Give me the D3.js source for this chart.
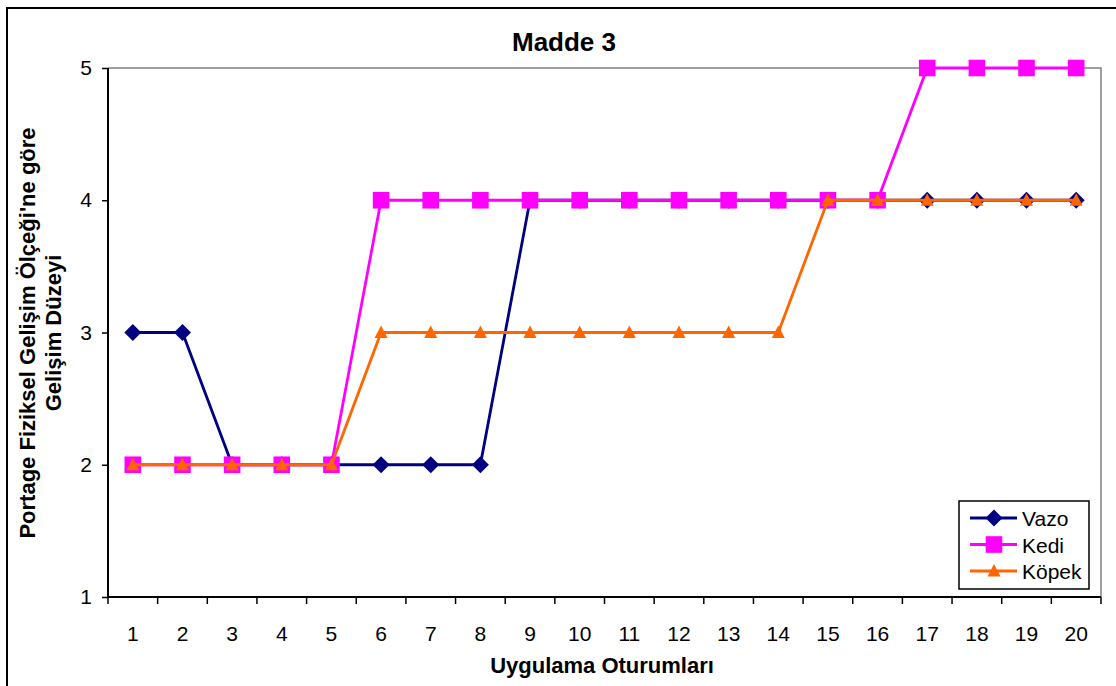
<!DOCTYPE html>
<html>
<head>
<meta charset="utf-8">
<script src="https://cdn.jsdelivr.net/npm/d3@7/dist/d3.min.js"></script>
<style>
  html, body { margin: 0; padding: 0; background: #fff; }
  svg { display: block; }
  text { font-family: "Liberation Sans", Arial, sans-serif; }
</style>
</head>
<body>
<svg id="chart" width="1116" height="686"></svg>
<script>
// Sessions 1..20 and the development level of each item per session
const sessions = d3.range(1, 21).map(String);
const vazo  = [3,3,2,2,2,2,2,2,4,4,4,4,4,4,4,4,4,4,4,4];
const kedi  = [2,2,2,2,2,4,4,4,4,4,4,4,4,4,4,4,5,5,5,5];
const kopek = [2,2,2,2,2,3,3,3,3,3,3,3,3,3,4,4,4,4,4,4];
const yTicks = [1, 2, 3, 4, 5];

const series = [
  { name: "Vazo",  values: vazo,  color: "#000080", symbol: "diamond" },
  { name: "Kedi",  values: kedi,  color: "#FF00FF", symbol: "square" },
  { name: "Köpek", values: kopek, color: "#FF6600", symbol: "triangle" }
];

const svg = d3.select("#chart");
const plot = { left: 108, right: 1101, top: 68, bottom: 597 };

const x = d3.scaleBand().domain(sessions).range([plot.left, plot.right]);
const y = d3.scaleLinear().domain([1, 5]).range([plot.bottom, plot.top]);

// outer chart frame
svg.append("rect")
  .attr("x", 7).attr("y", 8).attr("width", 1120).attr("height", 700)
  .attr("fill", "#fff").attr("stroke", "#000").attr("stroke-width", 2);

// plot area border (top and right in grey)
svg.append("path")
  .attr("d", `M${plot.left},${plot.top}H${plot.right}V${plot.bottom}`)
  .attr("fill", "none").attr("stroke", "#808080").attr("stroke-width", 1.5);

// title
svg.append("text")
  .attr("x", 564).attr("y", 51)
  .attr("text-anchor", "middle")
  .attr("font-size", 26).attr("font-weight", "bold")
  .text("Madde 3");

// y axis
const yAxis = svg.append("g")
  .attr("transform", `translate(${plot.left},0)`)
  .call(d3.axisLeft(y).tickValues(yTicks).tickFormat(d3.format("d")).tickSize(6).tickPadding(10));
yAxis.select(".domain").attr("stroke", "#000").attr("stroke-width", 2).attr("d", `M0,${plot.top}V${plot.bottom}`);
yAxis.selectAll(".tick line").attr("stroke", "#000").attr("stroke-width", 1.5);
yAxis.selectAll(".tick text").attr("font-size", 21).attr("font-family", "Liberation Sans, Arial, sans-serif").attr("fill", "#000");

// x axis: ticks between categories
const xAxis = svg.append("g")
  .attr("transform", `translate(0,${plot.bottom})`)
  .call(d3.axisBottom(x).tickSize(0).tickPadding(29));
xAxis.select(".domain").attr("stroke", "#000").attr("stroke-width", 2).attr("d", `M${plot.left},0H${plot.right}`);
xAxis.selectAll(".tick text").attr("font-size", 21).attr("font-family", "Liberation Sans, Arial, sans-serif").attr("fill", "#000");
xAxis.selectAll(".sep")
  .data(d3.range(sessions.length + 1))
  .join("line")
  .attr("class", "sep")
  .attr("x1", i => plot.left + i * x.step())
  .attr("x2", i => plot.left + i * x.step())
  .attr("y1", 0).attr("y2", 7)
  .attr("stroke", "#000").attr("stroke-width", 1.5);

// axis titles
svg.append("text")
  .attr("x", 602).attr("y", 673)
  .attr("text-anchor", "middle")
  .attr("font-size", 22).attr("font-weight", "bold")
  .text("Uygulama Oturumları");

const yTitle = svg.append("text")
  .attr("transform", "translate(35,333) rotate(-90)")
  .attr("text-anchor", "middle")
  .attr("font-size", 22).attr("font-weight", "bold");
yTitle.append("tspan").attr("x", 0).attr("dy", 0).text("Portage Fiziksel Gelişim Ölçeği'ne göre");
yTitle.append("tspan").attr("x", 0).attr("dy", 26).text("Gelişim Düzeyi");

// marker shapes
function markerPath(kind) {
  if (kind === "diamond") return "M0,-8.5L8.5,0L0,8.5L-8.5,0Z";
  if (kind === "square") return "M-8.3,-8.3H8.3V8.3H-8.3Z";
  return "M0,-7L6.5,5.5H-6.5Z";
}

const line = d3.line()
  .x((d, i) => x(sessions[i]) + x.bandwidth() / 2)
  .y(d => y(d));

series.forEach(s => {
  const g = svg.append("g");
  g.append("path")
    .attr("d", line(s.values))
    .attr("fill", "none").attr("stroke", s.color).attr("stroke-width", 2.8);
  g.selectAll("path.m")
    .data(s.values)
    .join("path")
    .attr("class", "m")
    .attr("transform", (d, i) => `translate(${x(sessions[i]) + x.bandwidth() / 2},${y(d)})`)
    .attr("d", markerPath(s.symbol))
    .attr("fill", s.color);
});

// legend
const legend = svg.append("g").attr("transform", "translate(959,501)");
legend.append("rect")
  .attr("width", 130).attr("height", 88)
  .attr("fill", "#fff").attr("stroke", "#000").attr("stroke-width", 1.5);
series.forEach((s, i) => {
  const cy = 17 + i * 26.5;
  const item = legend.append("g").attr("transform", `translate(0,${cy})`);
  item.append("line")
    .attr("x1", 11).attr("x2", 58).attr("y1", 0).attr("y2", 0)
    .attr("stroke", s.color).attr("stroke-width", 2.8);
  item.append("path")
    .attr("transform", "translate(35,0)")
    .attr("d", markerPath(s.symbol))
    .attr("fill", s.color);
  item.append("text")
    .attr("x", 63).attr("y", 8)
    .attr("font-size", 21)
    .text(s.name);
});
</script>
</body>
</html>
